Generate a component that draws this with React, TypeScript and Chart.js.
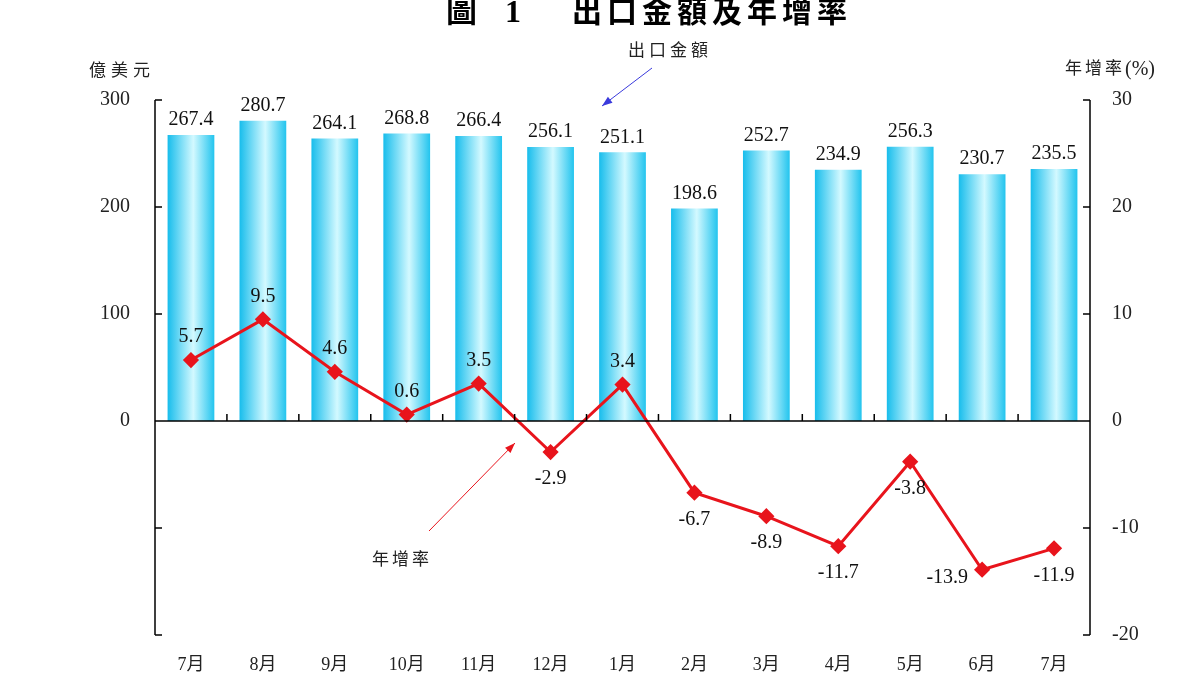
import React, { useEffect, useRef } from 'react';
import Chart from 'chart.js/auto';

const months = ['7月', '8月', '9月', '10月', '11月', '12月', '1月', '2月', '3月', '4月', '5月', '6月', '7月'];
const exportValues = [267.4, 280.7, 264.1, 268.8, 266.4, 256.1, 251.1, 198.6, 252.7, 234.9, 256.3, 230.7, 235.5];
const growthRates = [5.7, 9.5, 4.6, 0.6, 3.5, -2.9, 3.4, -6.7, -8.9, -11.7, -3.8, -13.9, -11.9];
const leftTicks = [300, 200, 100, 0, -100, -200];
const rightTicks = [30, 20, 10, 0, -10, -20];

const SERIF = '"Liberation Serif", "Noto Sans CJK TC", serif';
const CJK = '"Noto Sans CJK TC", "Liberation Serif", serif';
const BAR_RATIO = 0.65;

// spaced CJK text, one glyph at a time
const spacedText = (ctx: CanvasRenderingContext2D, text: string, x: number, y: number, step: number) => {
  ctx.textAlign = 'left';
  for (let i = 0; i < text.length; i++) ctx.fillText(text[i], x + i * step, y);
};

const arrow = (ctx: CanvasRenderingContext2D, x1: number, y1: number, x2: number, y2: number, color: string) => {
  ctx.save();
  ctx.strokeStyle = color;
  ctx.fillStyle = color;
  ctx.lineWidth = 1;
  ctx.beginPath();
  ctx.moveTo(x1, y1);
  ctx.lineTo(x2, y2);
  ctx.stroke();
  const a = Math.atan2(y2 - y1, x2 - x1);
  const len = 11;
  ctx.beginPath();
  ctx.moveTo(x2, y2);
  ctx.lineTo(x2 - len * Math.cos(a - 0.35), y2 - len * Math.sin(a - 0.35));
  ctx.lineTo(x2 - len * Math.cos(a + 0.35), y2 - len * Math.sin(a + 0.35));
  ctx.closePath();
  ctx.fill();
  ctx.restore();
};

const axesPlugin = {
  id: 'axesPlugin',
  afterDatasetsDraw(chart: any) {
    const { ctx, chartArea, scales } = chart;
    const { left, right, top, bottom } = chartArea;
    const y = scales.y;
    const y1 = scales.y1;
    const x = scales.x;
    ctx.save();
    ctx.strokeStyle = '#000';
    ctx.lineWidth = 1.5;
    ctx.beginPath();
    ctx.moveTo(left, top);
    ctx.lineTo(left, bottom);
    ctx.moveTo(right, top);
    ctx.lineTo(right, bottom);
    leftTicks.forEach(v => {
      const py = y.getPixelForValue(v);
      ctx.moveTo(left, py);
      ctx.lineTo(left + 7, py);
    });
    rightTicks.forEach(v => {
      const py = y1.getPixelForValue(v);
      ctx.moveTo(right, py);
      ctx.lineTo(right - 7, py);
    });
    const y0 = y.getPixelForValue(0);
    ctx.moveTo(left, y0);
    ctx.lineTo(right, y0);
    for (let i = 1; i < months.length; i++) {
      const px = (x.getPixelForValue(i - 1) + x.getPixelForValue(i)) / 2;
      ctx.moveTo(px, y0);
      ctx.lineTo(px, y0 - 7);
    }
    ctx.stroke();
    ctx.restore();
  },
};

const labelsPlugin = {
  id: 'labelsPlugin',
  afterDraw(chart: any) {
    const { ctx } = chart;
    ctx.save();
    ctx.fillStyle = '#111';
    ctx.font = `20px ${SERIF}`;
    ctx.textAlign = 'center';
    const bars = chart.getDatasetMeta(0).data;
    bars.forEach((el: any, i: number) => {
      ctx.textBaseline = 'bottom';
      ctx.fillText(exportValues[i].toFixed(1), el.x, el.y - 5);
    });
    const pts = chart.getDatasetMeta(1).data;
    const minIdx = growthRates.indexOf(Math.min(...growthRates));
    pts.forEach((el: any, i: number) => {
      const v = growthRates[i];
      if (i === minIdx) {
        // lowest point: label sits to the left, as in the source
        ctx.textBaseline = 'middle';
        ctx.textAlign = 'right';
        ctx.fillText(v.toFixed(1), el.x - 14, el.y + 8);
        ctx.textAlign = 'center';
      } else if (v >= 0) {
        ctx.textBaseline = 'bottom';
        ctx.fillText(v.toFixed(1), el.x, el.y - 13);
      } else {
        ctx.textBaseline = 'top';
        ctx.fillText(v.toFixed(1), el.x, el.y + 17);
      }
    });

    // title and axis captions
    ctx.textBaseline = 'alphabetic';
    ctx.fillStyle = '#000';
    ctx.font = `bold 31px ${CJK}`;
    ctx.textAlign = 'left';
    ctx.fillText('圖', 446, 22);
    ctx.font = `bold 32px ${SERIF}`;
    ctx.fillText('1', 505, 22);
    ctx.font = `bold 30px ${CJK}`;
    spacedText(ctx, '出口金額及年增率', 572, 22, 35);

    ctx.font = `17px ${CJK}`;
    ctx.fillStyle = '#222';
    spacedText(ctx, '億美元', 89, 76, 22);
    spacedText(ctx, '出口金額', 628, 56, 21);
    spacedText(ctx, '年增率', 372, 565, 20);
    spacedText(ctx, '年增率', 1065, 74, 20);
    ctx.font = `20px ${SERIF}`;
    ctx.fillText('(%)', 1125, 75);

    arrow(ctx, 652, 68, 602, 106, '#3a3adc');
    arrow(ctx, 429, 531, 515, 443, '#e8141c');
    ctx.restore();
  },
};

const App: React.FC = () => {
  const canvasRef = useRef<HTMLCanvasElement>(null);

  useEffect(() => {
    if (!canvasRef.current) return;
    const chart = new Chart(canvasRef.current, {
      type: 'bar',
      data: {
        labels: months,
        datasets: [
          {
            type: 'bar',
            label: '出口金額',
            data: exportValues,
            yAxisID: 'y',
            order: 2,
            categoryPercentage: 1,
            barPercentage: BAR_RATIO,
            backgroundColor: (c: any) => {
              const ch = c.chart;
              const xs = ch.scales.x;
              if (!xs || !ch.chartArea) return '#3ccff2';
              const cx = xs.getPixelForValue(c.dataIndex);
              const w = (xs.width / months.length) * BAR_RATIO;
              const g = ch.ctx.createLinearGradient(cx - w / 2, 0, cx + w / 2, 0);
              g.addColorStop(0, '#17bdec');
              g.addColorStop(0.55, '#d3f9ff');
              g.addColorStop(1, '#22c4ee');
              return g;
            },
            borderWidth: 0,
          },
          {
            type: 'line',
            label: '年增率',
            data: growthRates,
            yAxisID: 'y1',
            order: 1,
            borderColor: '#e8141c',
            borderWidth: 3,
            pointStyle: 'rectRot',
            pointRadius: 6,
            pointBackgroundColor: '#e8141c',
            pointBorderColor: '#e8141c',
            tension: 0,
          },
        ],
      } as any,
      options: {
        animation: false,
        responsive: true,
        maintainAspectRatio: false,
        layout: { padding: { top: 100, left: 0, right: 0, bottom: 0 } },
        plugins: { legend: { display: false }, tooltip: { enabled: false } },
        scales: {
          x: {
            grid: { display: false },
            border: { display: false },
            ticks: { color: '#222', font: { family: SERIF, size: 18 }, padding: 11, maxRotation: 0 },
            afterFit: (s: any) => { s.height = 40; },
          },
          y: {
            position: 'left',
            min: -200,
            max: 300,
            grid: { display: false },
            border: { display: false },
            ticks: {
              stepSize: 100,
              color: '#222',
              padding: 17,
              font: { family: SERIF, size: 20 },
              callback: (v: any) => (Number(v) >= 0 ? String(v) : ''),
            },
            afterFit: (s: any) => { s.width = 155; },
          },
          y1: {
            position: 'right',
            min: -20,
            max: 30,
            grid: { display: false },
            border: { display: false },
            ticks: {
              stepSize: 10,
              color: '#222',
              padding: 14,
              font: { family: SERIF, size: 20 },
            },
            afterFit: (s: any) => { s.width = 110; },
          },
        },
      },
      plugins: [axesPlugin, labelsPlugin],
    });
    return () => chart.destroy();
  }, []);

  return (
    <div style={{ position: 'fixed', left: 0, top: 0, width: 1200, height: 675, background: '#fff' }}>
      <canvas ref={canvasRef}></canvas>
    </div>
  );
};

export default App;
